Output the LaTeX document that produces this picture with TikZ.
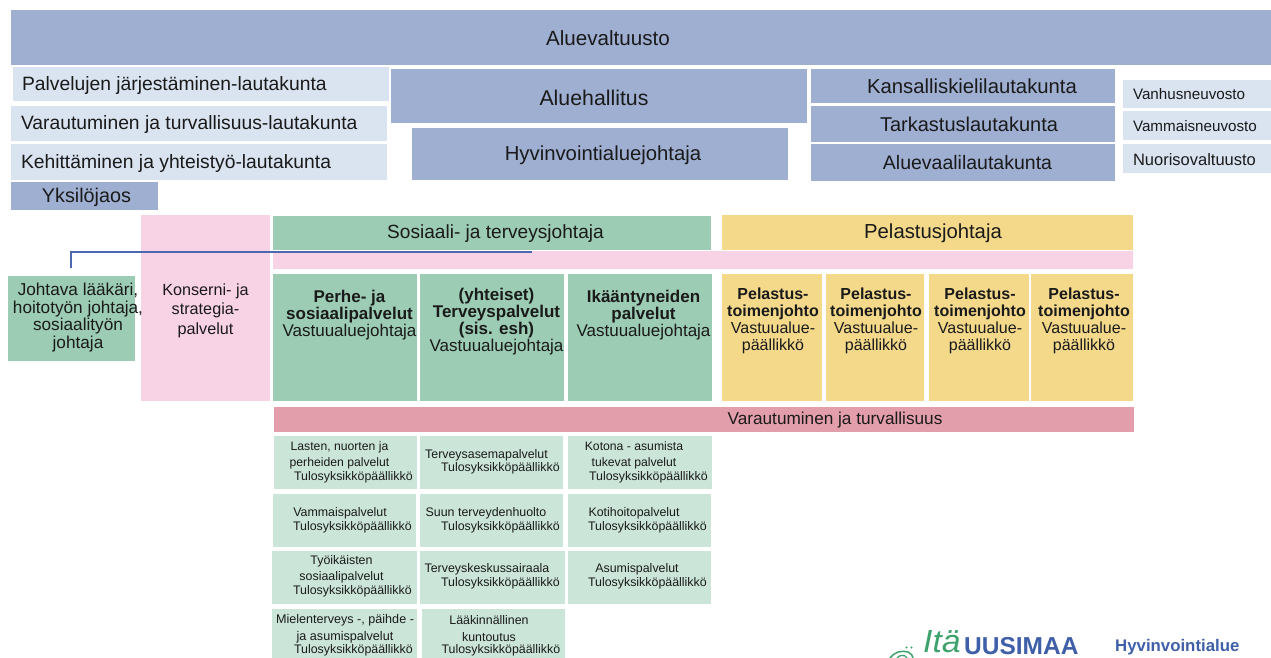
\documentclass[tikz,border=0pt]{standalone}
\usepackage{fontspec}
\setmainfont{Liberation Sans}
\definecolor{navy}{HTML}{9FAFD2}
\definecolor{pale}{HTML}{DAE4F1}
\definecolor{grn}{HTML}{9CCCB4}
\definecolor{lgrn}{HTML}{CBE5D9}
\definecolor{pnk}{HTML}{F8D3E6}
\definecolor{yel}{HTML}{F4D98B}
\definecolor{rose}{HTML}{E29EAA}
\definecolor{ink}{HTML}{1A1A1A}
\definecolor{lineblue}{HTML}{4A69B0}
\definecolor{logoblue}{HTML}{3F5FA8}
\definecolor{logogreen}{HTML}{3DA26C}
\tikzset{
  x=1pt,y=-1pt,
  bx/.style={draw=none,rectangle,inner sep=0pt,outer sep=0pt},
  tx/.style={inner sep=0pt,outer sep=0pt,text=ink,align=center,font=\fontsize{#1}{#1}\selectfont},
  tl/.style={inner sep=0pt,outer sep=0pt,text=ink,anchor=west,font=\fontsize{#1}{#1}\selectfont},
}
% \bxx{name}{x1}{y1}{x2}{y2}{fill}
\newcommand{\bxx}[6]{%
  \pgfmathsetmacro{\ww}{#4-#2}\pgfmathsetmacro{\hh}{#5-#3}%
  \pgfmathsetmacro{\cx}{(#2+#4)/2}\pgfmathsetmacro{\cy}{(#3+#5)/2}%
  \node[bx,fill=#6,minimum width=\ww pt,minimum height=\hh pt] (#1) at (\cx,\cy) {};}
\newcommand{\tul}[3]{\node[tl=12.4] (#1) at (#2,#3) {Tulosyksikköpäällikkö};}
\newcommand{\pelt}[2]{\node[tx=16] (#1) at (#2,320.5) {\textbf{Pelastus-}\\[1pt]\textbf{toimenjohto}\\[1pt]Vastuualue-\\[1pt]päällikkö};}
\begin{document}
\begin{tikzpicture}
\useasboundingbox (0,0) rectangle (1271,658);
\begin{scope}
\clip (0,0) rectangle (1271,658);
% top level
\bxx{valt}{11}{10}{1271}{65}{navy}
\node[tx=20.6] (valtt) at (608,38) {Aluevaltuusto};
\bxx{palv}{13}{67}{389}{101}{pale}
\bxx{varl}{11}{106}{387}{141}{pale}
\bxx{kehl}{11}{144}{387}{180}{pale}
\node[tl=19.3] (palvt) at (22,85.5) {Palvelujen järjestäminen-lautakunta};
\node[tl=19.3] (varlt) at (21,125) {Varautuminen ja turvallisuus-lautakunta};
\node[tl=19.3] (kehlt) at (21,164) {Kehittäminen ja yhteistyö-lautakunta};
\bxx{yks}{11}{182}{158}{210}{navy}
\node[tx=19.8] (ykst) at (86.5,197) {Yksilöjaos};
\bxx{hall}{391}{69}{807}{123}{navy}
\node[tx=21.3] (hallt) at (594,97.5) {Aluehallitus};
\bxx{hyv}{412}{128}{788}{180}{navy}
\node[tx=20.3] (hyvt) at (603,155.5) {Hyvinvointialuejohtaja};
\bxx{kans}{811}{69}{1115}{103}{navy}
\node[tx=20.3] (kanst) at (972,86.5) {Kansalliskielilautakunta};
\bxx{tark}{811}{106}{1115}{142}{navy}
\node[tx=20] (tarkt) at (969,124) {Tarkastuslautakunta};
\bxx{vaal}{811}{144}{1115}{181}{navy}
\node[tx=19.5] (vaalt) at (967.5,163) {Aluevaalilautakunta};
\bxx{vanh}{1123}{80}{1271}{108}{pale}
\bxx{vamm}{1123}{111}{1271}{140}{pale}
\bxx{nuor}{1123}{144}{1271}{173}{pale}
\node[tl=15.2] (vanht) at (1133,94) {Vanhusneuvosto};
\node[tl=15.2] (vammt) at (1133,126.5) {Vammaisneuvosto};
\node[tl=16.5] (nuort) at (1133,160) {Nuorisovaltuusto};
% left column
\bxx{joht}{8}{276}{135}{361}{grn}
\bxx{kons}{141}{215}{270}{401}{pnk}
\bxx{sos}{273}{216}{711}{250}{grn}
\node[tx=19.1] (sost) at (495.5,234) {Sosiaali- ja terveysjohtaja};
\bxx{strip}{273}{251}{1133}{269}{pnk}
\bxx{pel}{722}{215}{1133}{250}{yel}
\node[tx=20.3] (pelt) at (933,233) {Pelastusjohtaja};
\node[tx=17.2] (johtt) at (78,317.5) {Johtava lääkäri,\\[0.3pt]hoitotyön johtaja,\\[0.3pt]sosiaalityön\\[0.3pt]johtaja};
\node[tx=16.2] (konst) at (205.5,310.5) {Konserni- ja\\[3.2pt]strategia-\\[3.2pt]palvelut};
% services
\bxx{perhe}{273}{274}{417}{401}{grn}
\bxx{yht}{420}{274}{564}{401}{grn}
\bxx{ika}{568}{274}{712}{401}{grn}
\node[tx=17] (perhet) at (349.5,315.5) {\textbf{Perhe- ja}\\\textbf{sosiaalipalvelut}\\Vastuualuejohtaja};
\node[tx=17] (yhtt) at (496.5,322) {\textbf{(yhteiset)}\\\textbf{Terveyspalvelut}\\\textbf{(sis. esh)}\\Vastuualuejohtaja};
\node[tx=17] (ikat) at (643.5,315.5) {\textbf{Ikääntyneiden}\\\textbf{palvelut}\\Vastuualuejohtaja};
\bxx{p1}{722}{274}{822}{401}{yel}
\bxx{p2}{826}{274}{924}{401}{yel}
\bxx{p3}{929}{274}{1029}{401}{yel}
\bxx{p4}{1031}{274}{1133}{401}{yel}
\pelt{p1t}{773}
\pelt{p2t}{876}
\pelt{p3t}{980}
\pelt{p4t}{1084}
\bxx{vart}{274}{407}{1134}{432}{rose}
\node[tx=17.2] (vartt) at (835,420) {Varautuminen ja turvallisuus};
% result units
\bxx{a1}{274}{436}{417}{489}{lgrn}
\bxx{b1}{420}{436}{563}{489}{lgrn}
\bxx{c1}{568}{436}{712}{489}{lgrn}
\bxx{a2}{273}{494}{416}{547}{lgrn}
\bxx{b2}{420}{494}{563}{547}{lgrn}
\bxx{c2}{568}{494}{711}{547}{lgrn}
\bxx{a3}{272}{551}{417}{604}{lgrn}
\bxx{b3}{420}{551}{565}{604}{lgrn}
\bxx{c3}{568}{551}{711}{604}{lgrn}
\bxx{a4}{272}{609}{417}{662}{lgrn}
\bxx{b4}{422}{609}{565}{662}{lgrn}
\node[tx=12.2] (a1t) at (339.5,455) {Lasten, nuorten ja\\[3.6pt]perheiden palvelut};
\tul{a1u}{294}{477}
\node[tx=12.4] (b1t) at (486.5,455) {Terveysasemapalvelut};
\tul{b1u}{441}{468.5}
\node[tx=12.2] (c1t) at (634,455) {Kotona - asumista\\[3.6pt]tukevat palvelut};
\tul{c1u}{589}{477}
\node[tx=12.4] (a2t) at (340,513.5) {Vammaispalvelut};
\tul{a2u}{293}{527}
\node[tx=12.4] (b2t) at (486,513.5) {Suun terveydenhuolto};
\tul{b2u}{441}{527}
\node[tx=12.4] (c2t) at (634,513.5) {Kotihoitopalvelut};
\tul{c2u}{588}{527}
\node[tx=12.4] (a3t) at (341.5,569) {Työikäisten\\[3.6pt]sosiaalipalvelut};
\tul{a3u}{293}{591}
\node[tx=12.4] (b3t) at (487,569.5) {Terveyskeskussairaala};
\tul{b3u}{441}{583}
\node[tx=12.4] (c3t) at (637,569.5) {Asumispalvelut};
\tul{c3u}{588}{583}
\node[tx=12.6] (a4t) at (345,628.5) {Mielenterveys -, päihde -\\[4pt]ja asumispalvelut};
\tul{a4u}{294}{650.5}
\node[tx=12.4] (b4t) at (489,628.5) {Lääkinnällinen\\[4pt]kuntoutus};
\tul{b4u}{441.5}{650.5}
% connector
\coordinate (cstart) at (71,268);
\coordinate (cend) at (532,252);
\draw[lineblue,line width=1.3pt] (cstart) |- (cend);
% logo
\node[inner sep=0pt,anchor=base west,text=logogreen,font=\fontsize{32}{32}\selectfont\itshape,xscale=1.05] (ita) at (923,652.5) {Itä};
\node[inner sep=0pt,anchor=base west,text=logoblue,font=\fontsize{24.5}{24.5}\selectfont\bfseries] (uusi) at (964,654.5) {UUSIMAA};
\node[inner sep=0pt,anchor=west,text=logoblue,font=\fontsize{16.8}{16.8}\selectfont\bfseries] (hyvi) at (1115,647) {Hyvinvointialue};
\draw[logogreen,line width=1.5pt] (890,658) .. controls (894,652) and (902,650) .. (908,652) .. controls (911,653) and (913,656) .. (913,658);
\draw[logogreen,line width=1.3pt] (897,658) .. controls (899,655) and (905,654) .. (907,658);
\fill[logogreen] (906.5,647.5) circle (1.2pt) (911.5,647.5) circle (1.2pt);
\end{scope}
\end{tikzpicture}
\end{document}
